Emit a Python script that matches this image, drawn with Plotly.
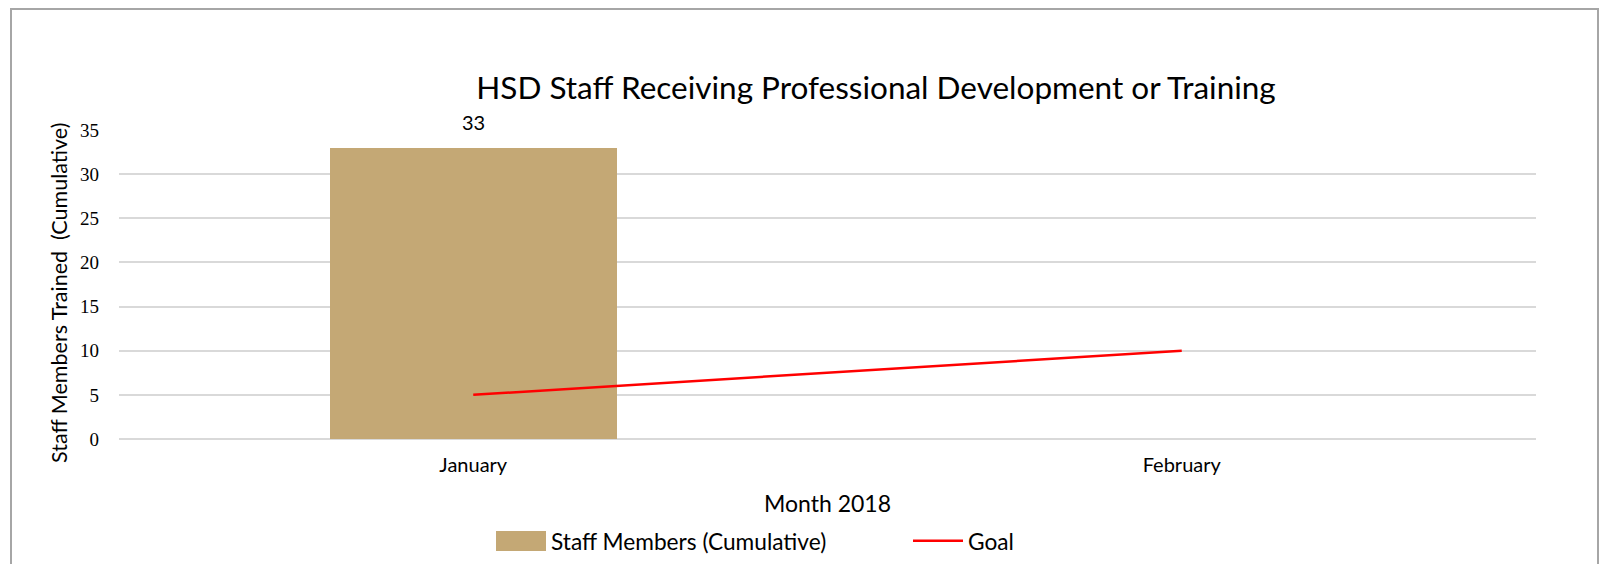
import plotly.graph_objects as go

months = ["January", "February"]
staff_cumulative = [33, None]
goal = [5, 10]
y_ticks = [0, 5, 10, 15, 20, 25, 30, 35]

BAR_COLOR = "#c4a875"
W, H = 1600, 564
L, R, T, B = 119, 64, 130, 125
pw, ph = W - L - R, H - T - B

def px(x):
    return (x - L) / pw

def py(y):
    return (H - B - y) / ph

fig = go.Figure()
fig.add_trace(go.Bar(
    x=months, y=staff_cumulative, name="Staff Members (Cumulative)",
    marker=dict(color=BAR_COLOR, line=dict(width=0)),
    width=0.405,
))
fig.add_trace(go.Scatter(
    x=months, y=goal, name="Goal", mode="lines",
    line=dict(color="#ff0000", width=2.5),
))

annotations = []
for m, v in zip(months, staff_cumulative):
    if v is not None:
        annotations.append(dict(x=m, y=v, xref="x", yref="y", text=str(v),
                                showarrow=False, yanchor="bottom", yshift=12,
                                font=dict(family="Lato", size=20, color="#000")))
annotations.append(dict(x=px(59), y=py(293), xref="paper", yref="paper",
                        text="Staff Members Trained  (Cumulative)", textangle=-90,
                        showarrow=False, xanchor="center", yanchor="middle",
                        font=dict(family="Lato", size=21.5, color="#000")))

LEG_X = 491
fig.update_layout(
    width=W, height=H,
    margin=dict(l=L, r=R, t=T, b=B, autoexpand=False),
    plot_bgcolor="white", paper_bgcolor="white",
    title=dict(text="HSD Staff Receiving Professional Development or Training",
               x=876 / W, xref="container", xanchor="center",
               y=1 - 88 / H, yref="container", yanchor="middle",
               font=dict(family="Lato", size=31.5, color="#000")),
    font=dict(family="Lato", color="#000"),
    showlegend=True,
    legend=dict(orientation="h", x=LEG_X / W, xref="container", xanchor="left",
                y=1 - 541 / H, yref="container", yanchor="middle",
                font=dict(family="Lato", size=22.7, color="#000"),
                itemwidth=50, entrywidth=352, entrywidthmode="pixels",
                traceorder="normal", bgcolor="rgba(0,0,0,0)"),
    bargap=0,
    annotations=annotations,
    shapes=[
        dict(type="rect", xref="paper", yref="paper",
             x0=px(11), x1=px(1598), y0=py(620), y1=py(9),
             line=dict(color="#a6a6a6", width=2), layer="below"),
        # wide legend swatch for the bar series
        dict(type="rect", xref="paper", yref="paper",
             x0=px(LEG_X + 5), x1=px(LEG_X + 55), y0=py(551), y1=py(531),
             fillcolor=BAR_COLOR, line=dict(width=0), layer="above"),
    ],
)
fig.update_xaxes(
    automargin=False,
    showgrid=False, showline=False, zeroline=False,
    tickfont=dict(family="Lato", size=20, color="#000"),
    ticklabelstandoff=12,
    title=dict(text="Month 2018", font=dict(family="Lato", size=23, color="#000"), standoff=20),
)
fig.update_yaxes(
    automargin=False,
    range=[0, 35], tickvals=y_ticks,
    showgrid=True, gridcolor="#d9d9d9", gridwidth=1.5,
    zeroline=True, zerolinecolor="#d9d9d9", zerolinewidth=1.5,
    showline=False,
    tickfont=dict(family="Liberation Serif", size=19, color="#000"),
    ticklabelstandoff=19,
)

fig.write_html("out.html", config={"displayModeBar": False},
               post_script="document.body.style.margin='0';document.body.style.padding='0';")
